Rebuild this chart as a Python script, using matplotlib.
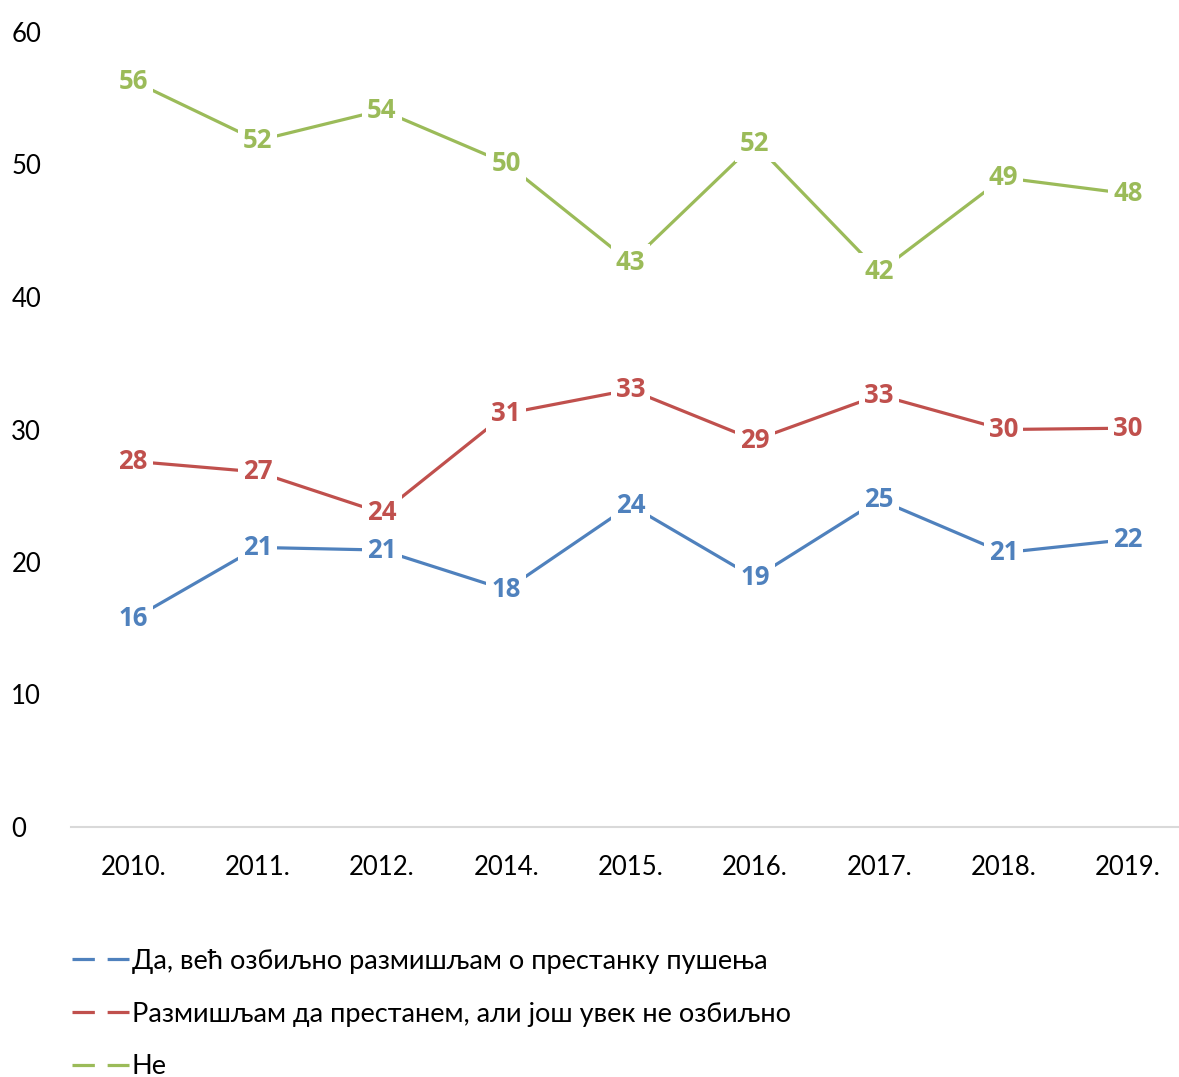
import matplotlib
matplotlib.use("Agg")
import matplotlib.pyplot as plt
from matplotlib.lines import Line2D

plt.rcParams['font.family'] = ['Lato', 'Open Sans', 'DejaVu Sans']

# data
years = ['2010.', '2011.', '2012.', '2014.', '2015.', '2016.', '2017.', '2018.', '2019.']
da_ozbiljno = [15.7, 21.1, 20.9, 17.9, 24.3, 18.8, 24.7, 20.7, 21.7]
razmisljam = [27.6, 26.8, 23.7, 31.2, 33.0, 29.2, 32.6, 30.0, 30.1]
ne = [56.3, 51.8, 54.1, 50.1, 42.6, 51.6, 41.9, 49.0, 47.8]

names = ['Да, већ озбиљно размишљам о престанку пушења',
         'Размишљам да престанем, али још увек не озбиљно',
         'Не']
colors = ['#4F81BD', '#C0504D', '#9BBB59']

fig = plt.figure(figsize=(11.79, 10.77), dpi=100)
ax = fig.add_axes([71/1179, 250/1077, 1119/1179, 795/1077])

x = list(range(len(years)))
for vals, col in zip([da_ozbiljno, razmisljam, ne], colors):
    ax.plot(x, vals, color=col, lw=2.3, solid_capstyle='butt')
    for xi, v in zip(x, vals):
        ax.text(xi, v, f'{round(v):d}', color=col, fontsize=18.5, fontweight='bold',
                family=['Open Sans', 'DejaVu Sans'],
                ha='center', va='center',
                bbox=dict(boxstyle='square,pad=0.2', fc='white', ec='none'))

ax.set_xlim(-0.5, 8.5)
ax.set_ylim(0, 60)
ax.set_yticks(range(0, 61, 10))
ax.set_xticks(x)
ax.set_xticklabels(years)
ax.tick_params(axis='both', length=0, labelsize=18.5)
ax.tick_params(axis='x', pad=20)
for s in ['top', 'right', 'left']:
    ax.spines[s].set_visible(False)
ax.spines['bottom'].set_color('#D9D9D9')
ax.spines['bottom'].set_linewidth(1.5)
for lab in ax.get_yticklabels():
    lab.set_horizontalalignment('left')
ax.tick_params(axis='y', pad=43)

handles = [Line2D([0], [0], color=c, lw=2.3, linestyle=(0, (7, 4))) for c in colors]
fig.legend(handles, names, loc='upper left', bbox_to_anchor=(0.052, 0.129),
           frameon=False, fontsize=19.5, handlelength=2.1, handletextpad=0.1,
           labelspacing=1.02, borderaxespad=0)

fig.savefig('out.png', dpi=100)
